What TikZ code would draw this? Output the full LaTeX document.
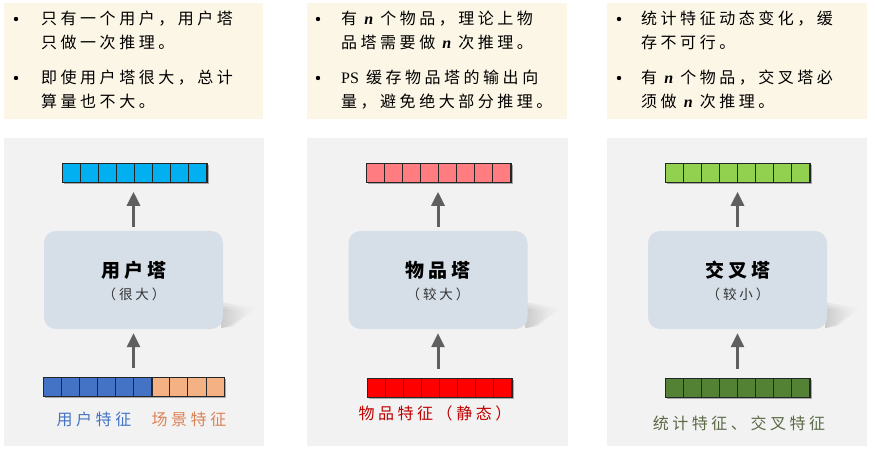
\documentclass[tikz,border=0pt]{standalone}
\usepackage{fontspec}
\setmainfont{Noto Sans CJK SC}[LetterSpace=22]
\newfontfamily\latf{Liberation Serif}
\usetikzlibrary{arrows.meta,shadows,calc}
\definecolor{notebg}{HTML}{FCF6E6}
\definecolor{panelbg}{HTML}{F2F2F2}
\definecolor{towerbg}{HTML}{D6DEE8}
\definecolor{arrowgray}{HTML}{5F5F5F}
\definecolor{vblue}{HTML}{00B0F0}
\definecolor{vpink}{HTML}{FF7C80}
\definecolor{vlgreen}{HTML}{92D050}
\definecolor{fblue}{HTML}{4472C4}
\definecolor{forange}{HTML}{F4B183}
\definecolor{fred}{HTML}{FF0000}
\definecolor{fdgreen}{HTML}{548235}
\definecolor{lblue}{HTML}{4472C4}
\definecolor{lorange}{HTML}{DD8257}
\definecolor{lred}{HTML}{C00000}
\definecolor{lgreen}{HTML}{5B6A47}
\newcommand{\nn}{{\latf\bfseries\itshape n}}
\newcommand{\featvec}[5]{%
  \node[vecbox, fill=#5, minimum width=#4*18.1pt, anchor=north west] (#1) at (#2,#3) {};
  \foreach \i in {1,...,#4} \draw[vecline] ($(#1.north west)+(\i*18.1,0)$) -- ++(0,19);
}
\newcommand{\towershadow}[1]{%
  \foreach \s/\o in {0/.25,3/.3,6/.35}{%
  \shade[left color=gray!55, right color=panelbg, opacity=\o]
    ($(#1.south east)+(-2,-27+\s)$) -- ($(#1.south east)+(33-\s*1.5,-21+\s*.6)$) -- ($(#1.south east)+(10-\s*.5,-3-\s*.2)$) -- ($(#1.south east)+(-2,-1)$) -- cycle;}
}
\tikzset{
  notebox/.style={fill=notebg, draw=none},
  panelbox/.style={fill=panelbg, draw=none},
  tower/.style={fill=towerbg, rounded corners=12pt, minimum width=179pt, minimum height=98pt, inner sep=0},
  vecbox/.style={draw=black!85, line width=0.8pt, minimum height=19pt, inner sep=0,
    drop shadow={shadow xshift=1.5pt, shadow yshift=-1.5pt, fill=black, opacity=.3}},
  vecline/.style={draw=black!85, line width=0.8pt},
  arr/.style={-{Triangle[width=13pt,length=14pt]}, line width=3pt, draw=arrowgray},
  txt/.style={anchor=base west, inner sep=0, font=\fontsize{16}{18}\selectfont},
  bul/.style={circle, fill=black, inner sep=0, minimum size=4.4pt},
  ttitle/.style={inner sep=0, font=\fontsize{19}{22}\selectfont\bfseries},
  tsub/.style={inner sep=0, font=\fontsize{13.5}{16}\selectfont, text=black!80},
  flabel/.style={inner sep=0, anchor=base, font=\fontsize{16}{18}\selectfont},
}
\begin{document}
\begin{tikzpicture}[x=1pt,y=-1pt]
\useasboundingbox (0,0) rectangle (875,454);
\fill[white] (0,0) rectangle (875,454);
% note boxes
\fill[notebox] (4,3) rectangle (263,119);
\fill[notebox] (307,3) rectangle (567,119);
\fill[notebox] (607,3) rectangle (867,119);
% panels
\fill[panelbox] (4,138) rectangle (264,446);
\fill[panelbox] (307,138) rectangle (568,446);
\fill[panelbox] (607,138) rectangle (867,446);

% note 1
\node[bul] (b11) at (16,19) {};
\node[txt] (t11) at (41,25) {只有一个用户，用户塔};
\node[txt] (t12) at (41,49) {只做一次推理。};
\node[bul] (b12) at (16,78) {};
\node[txt] (t13) at (41,84) {即使用户塔很大，总计};
\node[txt] (t14) at (41,107.5) {算量也不大。};
% note 2
\node[bul] (b21) at (318,19) {};
\node[txt] (t21) at (341,25) {有 \nn{} 个物品，理论上物};
\node[txt] (t22) at (341,49) {品塔需要做 \nn{} 次推理。};
\node[bul] (b22) at (318,78) {};
\node[txt] (t23) at (341,84) {{\latf PS} 缓存物品塔的输出向};
\node[txt] (t24) at (341,107.5) {量，避免绝大部分推理。};
% note 3
\node[bul] (b31) at (619,19) {};
\node[txt] (t31) at (641,25) {统计特征动态变化，缓};
\node[txt] (t32) at (641,49) {存不可行。};
\node[bul] (b32) at (619,78) {};
\node[txt] (t33) at (641,84) {有 \nn{} 个物品，交叉塔必};
\node[txt] (t34) at (641,107.5) {须做 \nn{} 次推理。};

% towers
\coordinate (uc) at (133.5,280);
\coordinate (ic) at (438,280);
\coordinate (cc) at (737.5,280);
\node[tower, fill=none] (utowerpos) at (uc) {};
\node[tower, fill=none] (itowerpos) at (ic) {};
\node[tower, fill=none] (ctowerpos) at (cc) {};
\towershadow{utowerpos}
\towershadow{itowerpos}
\towershadow{ctowerpos}
\node[tower] (utower) at (uc) {};
\node[tower] (itower) at (ic) {};
\node[tower] (ctower) at (cc) {};
\node[ttitle] (ut) at (134,270) {用户塔};
\node[tsub] (us) at (134,294) {（很大）};
\node[ttitle] (it) at (438,270) {物品塔};
\node[tsub] (is) at (438,294) {（较大）};
\node[ttitle] (ct) at (738,270) {交叉塔};
\node[tsub] (cs) at (738,294) {（较小）};

% vectors
\featvec{uout}{62}{163}{8}{vblue}
\featvec{ufeat}{43}{377}{6}{fblue}
\featvec{sfeat}{151.6}{377}{4}{forange}
\featvec{iout}{366}{163}{8}{vpink}
\featvec{ifeat}{367}{378}{8}{fred}
\featvec{cout}{665}{163}{8}{vlgreen}
\featvec{cfeat}{665}{378}{8}{fdgreen}

% arrows
\draw[arr, shorten <=4pt, shorten >=9pt] (utower.north) -- (utower.north |- uout.south);
\draw[arr, shorten <=9pt, shorten >=4pt] (utower.south |- ufeat.north) -- (utower.south);
\draw[arr, shorten <=4pt, shorten >=9pt] (itower.north) -- (itower.north |- iout.south);
\draw[arr, shorten <=9pt, shorten >=4pt] (itower.south |- ifeat.north) -- (itower.south);
\draw[arr, shorten <=4pt, shorten >=9pt] (ctower.north) -- (ctower.north |- cout.south);
\draw[arr, shorten <=9pt, shorten >=4pt] (ctower.south |- cfeat.north) -- (ctower.south);

% labels
\node[flabel, text=lblue] (ul) at (94,425.5) {用户特征};
\node[flabel, text=lorange] (sl) at (189,425.5) {场景特征};
\node[flabel, text=lred] (il) at (435,419.5) {物品特征（静态）};
\node[flabel, text=lgreen] (cl) at (739,429.5) {统计特征、交叉特征};
\end{tikzpicture}
\end{document}
